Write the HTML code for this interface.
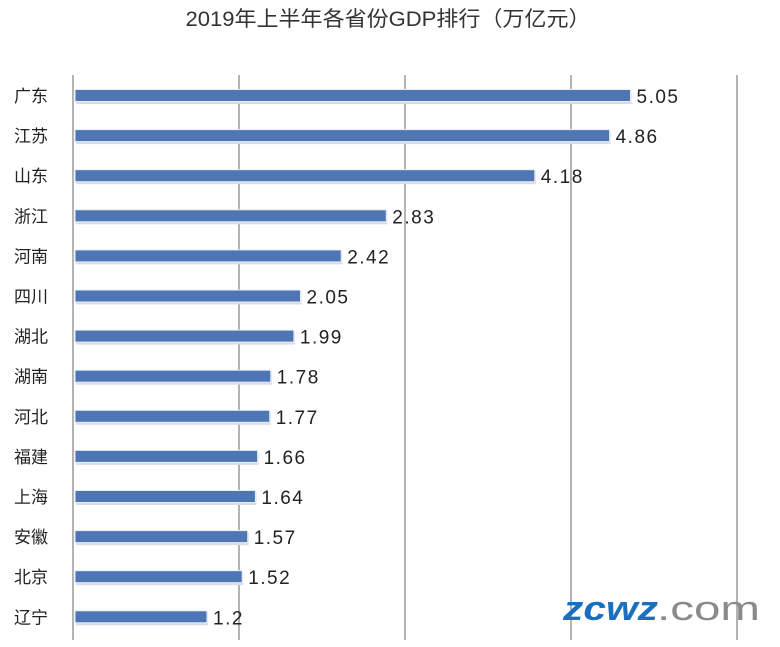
<!DOCTYPE html>
<html><head><meta charset="utf-8"><style>
body{margin:0;background:#fff;}
</style></head><body>
<svg width="780" height="647" xmlns="http://www.w3.org/2000/svg" style="display:block;font-family:'Liberation Sans','Noto Sans CJK SC',sans-serif">
<text x="388" y="26" text-anchor="middle" font-size="21" fill="#333" textLength="405" lengthAdjust="spacingAndGlyphs">2019年上半年各省份GDP排行（万亿元）</text>
<g stroke="#9a9a9a" stroke-width="1.5">
<line x1="73" y1="75" x2="73" y2="640"/>
<line x1="239" y1="75" x2="239" y2="640"/>
<line x1="405" y1="75" x2="405" y2="640"/>
<line x1="571" y1="75" x2="571" y2="640"/>
<line x1="737" y1="75" x2="737" y2="640"/>
</g>
<g id="bars"></g>
<text x="563" y="620" font-size="34" font-weight="bold" font-style="italic" fill="#1a6fc0" textLength="95" lengthAdjust="spacingAndGlyphs">zcwz</text>
<text x="657" y="620" font-size="34" fill="#8a8a8a" textLength="103" lengthAdjust="spacingAndGlyphs">.com</text>
</svg>
<script>
var d=[["广东",5.05],["江苏",4.86],["山东",4.18],["浙江",2.83],["河南",2.42],["四川",2.05],["湖北",1.99],["湖南",1.78],["河北",1.77],["福建",1.66],["上海",1.64],["安徽",1.57],["北京",1.52],["辽宁",1.2]];
var g=document.getElementById('bars'),s='';
d.forEach(function(r,i){var y=96+i*40.1,w=r[1]*110;
s+='<rect x="76" y="'+(y-5)+'" width="'+w+'" height="13" fill="#d8dde4"/>';
s+='<rect x="75" y="'+(y-6.5)+'" width="'+w+'" height="12" fill="#4f76b4" stroke="#e8eef6" stroke-width="1"/>';
s+='<text x="14" y="'+(y+6)+'" font-size="17" fill="#222">'+r[0]+'</text>';
s+='<text x="'+(75+w+6)+'" y="'+(y+7)+'" font-size="19" letter-spacing="1.5" fill="#222">'+r[1]+'</text>';});
g.innerHTML=s;
</script>
</body></html>
